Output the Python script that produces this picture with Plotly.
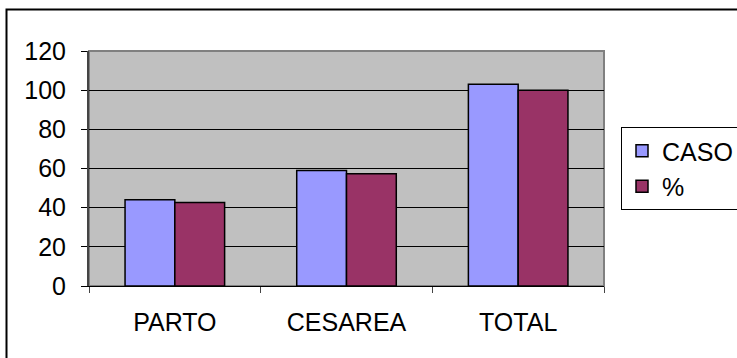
import plotly.graph_objects as go

categories = ["PARTO", "CESAREA", "TOTAL"]
caso = [44, 59, 103]
porcentaje = [42.7, 57.3, 100]
y_ticks = [0, 20, 40, 60, 80, 100, 120]

W, H = 737, 358
L, R, T, B = 89, 133, 51, 72
pw, ph = W - L - R, H - T - B


def px_x(px):
    return (px - L) / pw


def px_y(py):
    return (H - B - py) / ph


font = dict(family="Arial, Liberation Sans, sans-serif", size=25, color="black")

fig = go.Figure()
fig.add_trace(go.Bar(name="CASO", x=categories, y=caso,
                     marker=dict(color="#9999FF", line=dict(color="black", width=1.5))))
fig.add_trace(go.Bar(name="%", x=categories, y=porcentaje,
                     marker=dict(color="#993366", line=dict(color="black", width=1.5))))

fig.update_layout(
    width=W, height=H,
    margin=dict(l=L, r=R, t=T, b=B, autoexpand=False),
    paper_bgcolor="white",
    plot_bgcolor="#C0C0C0",
    barmode="group",
    bargap=0.42,
    bargroupgap=0,
    font=font,
    showlegend=True,
    legend=dict(x=px_x(621), y=px_y(127), xanchor="left", yanchor="top",
                bordercolor="black", borderwidth=1, bgcolor="white",
                font=font, itemwidth=30, tracegroupgap=0),
    xaxis=dict(showgrid=False, showline=True, linecolor="black", linewidth=1,
               ticks="outside", ticklen=6, tickcolor="#444", tickson="boundaries",
               ticklabelstandoff=14, zeroline=False),
    yaxis=dict(range=[0, 120], tickvals=y_ticks, showgrid=True, gridcolor="black",
               gridwidth=1, showline=True, linecolor="#444", linewidth=2,
               ticks="outside", ticklen=6, tickcolor="black", zeroline=False,
               ticklabelstandoff=10),
    shapes=[
        # plot area frame
        dict(type="rect", xref="paper", yref="paper", x0=0, x1=1, y0=0, y1=1,
             line=dict(color="#808080", width=2), layer="below"),
        # chart area border
        dict(type="rect", xref="paper", yref="paper",
             x0=px_x(6.5), x1=px_x(760), y0=px_y(400), y1=px_y(9.5),
             line=dict(color="black", width=2)),
    ],
)

fig.write_html("out.html")
